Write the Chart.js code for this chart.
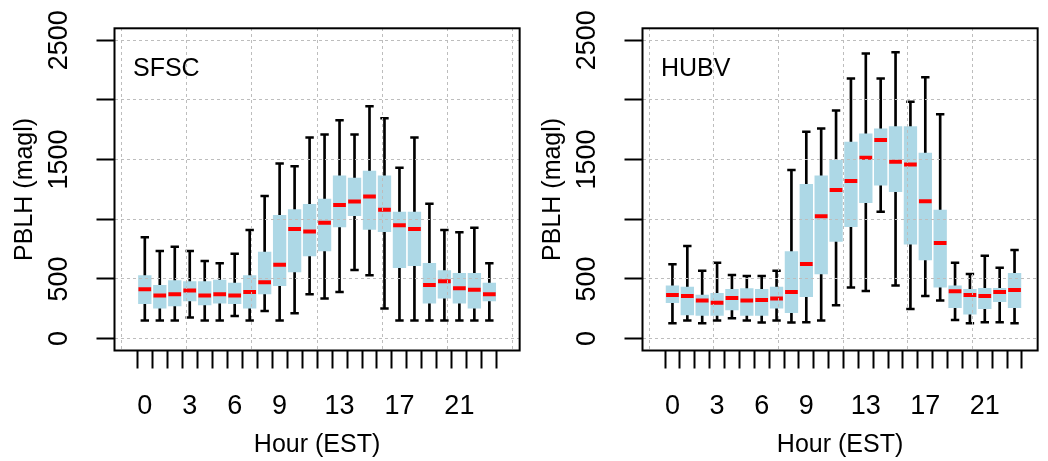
<!DOCTYPE html>
<html>
<head>
<meta charset="utf-8">
<script src="https://cdn.jsdelivr.net/npm/chart.js@4.4.1/dist/chart.umd.min.js"></script>
<style>
  html, body { margin: 0; padding: 0; background: #fff; overflow: hidden; }
  #wrap { position: relative; width: 1048px; height: 461px; }
  canvas { position: absolute; top: 0; }
  #sfsc { left: 0; }
  #hubv { left: 528px; }
</style>
</head>
<body>
<div id="wrap">
  <canvas id="sfsc" width="530" height="461"></canvas>
  <canvas id="hubv" width="520" height="461"></canvas>
</div>
<script>
"use strict";

// hours of the day (EST), one box per hour
const hours = [0, 1, 2, 3, 4, 5, 6, 7, 8, 9, 10, 11, 12, 13, 14, 15, 16, 17, 18, 19, 20, 21, 22, 23];
const hourTickLabels = ['0', '', '', '3', '', '', '6', '', '', '9', '', '', '', '13', '', '', '', '17', '', '', '', '21', '', ''];
const xGridPositions = [0, 5, 10, 15, 20, 25];
const yTickValues = [0, 500, 1000, 1500, 2000, 2500];
const yTickLabels = ['0', '500', '', '1500', '', '2500'];

// SFSC - PBLH (magl)
const sfscLow    = [151, 151, 151, 176, 151, 151, 190, 151, 232, 151, 212, 371, 335, 391, 575, 530, 251, 151, 151, 151, 151, 151, 151, 151];
const sfscQ1     = [293, 254, 273, 315, 282, 296, 293, 254, 374, 444, 558, 692, 734, 935, 1030, 915, 896, 594, 611, 296, 338, 296, 254, 315];
const sfscMedian = [413, 360, 371, 402, 360, 371, 360, 391, 472, 619, 918, 898, 971, 1119, 1149, 1191, 1080, 949, 918, 449, 480, 421, 410, 371];
const sfscQ3     = [527, 446, 485, 477, 477, 491, 466, 527, 725, 1032, 1080, 1124, 1169, 1364, 1345, 1403, 1364, 1060, 1060, 631, 569, 547, 547, 466];
const sfscHigh   = [848, 734, 770, 734, 650, 631, 711, 910, 1194, 1468, 1445, 1685, 1710, 1830, 1710, 1947, 1847, 1431, 1685, 1130, 910, 890, 929, 631];

// HUBV - PBLH (magl)
const hubvLow    = [128, 151, 128, 151, 170, 151, 134, 151, 134, 137, 151, 279, 427, 399, 1063, 444, 248, 357, 318, 156, 128, 137, 137, 128];
const hubvQ1     = [301, 198, 193, 193, 240, 193, 193, 254, 218, 352, 541, 815, 937, 1138, 1286, 1230, 790, 659, 430, 259, 204, 251, 310, 259];
const hubvMedian = [365, 357, 318, 301, 340, 318, 324, 335, 391, 625, 1024, 1244, 1320, 1515, 1663, 1481, 1459, 1150, 801, 396, 365, 357, 391, 407];
const hubvQ3     = [441, 432, 365, 379, 413, 419, 413, 432, 728, 1292, 1364, 1495, 1646, 1716, 1758, 1777, 1777, 1554, 1077, 441, 413, 421, 421, 547];
const hubvHigh   = [622, 776, 569, 636, 533, 525, 525, 569, 1412, 1733, 1760, 1911, 2179, 2388, 2179, 2399, 1984, 2190, 1880, 636, 541, 695, 594, 742];

const FONT = '"Liberation Sans", Arial, Helvetica, sans-serif';
Chart.defaults.font.family = FONT;
Chart.defaults.color = '#000';

const positions = hours.map(h => h + 1);

/**
 * plot frame + station name in the top left corner
 */
const panelFrame = {
    id: 'panelFrame',
    afterDraw: function (chart, args, opts) {
        const ctx = chart.ctx;
        const area = chart.chartArea;

        ctx.save();
        ctx.strokeStyle = '#000';
        ctx.lineWidth = 2;
        ctx.strokeRect(area.left, area.top, area.right - area.left, area.bottom - area.top);

        ctx.font = '25px ' + FONT;
        ctx.fillStyle = '#000';
        ctx.textBaseline = 'alphabetic';
        ctx.fillText(opts.text, area.left + 18.5, area.top + 47.4);
        ctx.restore();
    }
};

function boxChart(canvasId, name, low, q1, median, q3, high, xMax, padRight) {
    const points = (arr) => arr.map((v, i) => ({x: positions[i], y: v}));
    const ranges = (a, b) => a.map((v, i) => ({x: positions[i], y: [v, b[i]]}));

    const caps = {
        type: 'line',
        showLine: false,
        pointStyle: 'line',
        pointRadius: 4.2,
        pointBorderWidth: 2.5,
        pointBorderColor: '#000',
        order: 2
    };

    return new Chart(document.getElementById(canvasId), {
        type: 'bar',
        data: {
            datasets: [{
                type: 'line',
                data: points(median),
                showLine: false,
                pointStyle: 'line',
                pointRadius: 6.35,
                pointBorderWidth: 4,
                pointBorderColor: '#ff0000',
                order: 0
            }, {
                type: 'bar',
                data: ranges(q1, q3),
                backgroundColor: '#add8e6',
                barThickness: 12.7,
                grouped: false,
                order: 1
            }, Object.assign({data: points(low)}, caps),
               Object.assign({data: points(high)}, caps), {
                type: 'bar',
                data: ranges(low, high),
                backgroundColor: '#000',
                barThickness: 2,
                grouped: false,
                order: 3
            }]
        },
        options: {
            responsive: false,
            animation: false,
            events: [],
            layout: {
                padding: {top: 28.3, right: padRight, bottom: 0, left: 0}
            },
            plugins: {
                legend: {display: false},
                tooltip: {enabled: false},
                panelFrame: {text: name}
            },
            scales: {
                x: {
                    type: 'linear',
                    position: 'bottom',
                    min: -0.46,
                    max: xMax,
                    afterBuildTicks: (sc) => {
                        sc.ticks = positions.map(v => ({value: v}));
                    },
                    afterFit: (sc) => {
                        sc.height = 110.5;
                    },
                    ticks: {
                        autoSkip: false,
                        minRotation: 0,
                        maxRotation: 0,
                        padding: 22,
                        font: {size: 27},
                        callback: (v) => hourTickLabels[v - 1]
                    },
                    grid: {
                        drawOnChartArea: false,
                        tickLength: 18,
                        tickWidth: 2,
                        tickColor: '#000'
                    },
                    border: {display: false},
                    title: {
                        display: true,
                        text: 'Hour (EST)',
                        font: {size: 25},
                        padding: {top: 0, bottom: 1}
                    }
                },
                xg: {
                    type: 'linear',
                    position: 'top',
                    min: -0.46,
                    max: xMax,
                    afterBuildTicks: (sc) => {
                        sc.ticks = xGridPositions.map(v => ({value: v}));
                    },
                    ticks: {display: false},
                    grid: {
                        drawTicks: false,
                        color: '#bdbdbd',
                        lineWidth: 1,
                        z: 1
                    },
                    border: {display: false, dash: [3, 3]}
                },
                y: {
                    type: 'linear',
                    position: 'left',
                    min: -100,
                    max: 2600,
                    afterBuildTicks: (sc) => {
                        sc.ticks = yTickValues.map(v => ({value: v}));
                    },
                    afterFit: (sc) => {
                        sc.width = 114.5;
                    },
                    ticks: {
                        minRotation: 90,
                        maxRotation: 90,
                        crossAlign: 'center',
                        padding: 6.5,
                        font: {size: 27},
                        callback: (v) => yTickLabels[yTickValues.indexOf(v)]
                    },
                    grid: {
                        color: '#bdbdbd',
                        lineWidth: 1,
                        tickLength: 18,
                        tickWidth: 2,
                        tickColor: '#000',
                        tickBorderDash: [],
                        z: 1
                    },
                    border: {display: false, dash: [3, 3]},
                    title: {
                        display: true,
                        text: 'PBLH (magl)',
                        font: {size: 25},
                        padding: {top: 10, bottom: 0}
                    }
                }
            }
        },
        plugins: [panelFrame]
    });
}

boxChart('sfsc', 'SFSC', sfscLow, sfscQ1, sfscMedian, sfscQ3, sfscHigh, 25.46, 2.5);
boxChart('hubv', 'HUBV', hubvLow, hubvQ1, hubvMedian, hubvQ3, hubvHigh, 25.0, 1);
</script>
</body>
</html>
